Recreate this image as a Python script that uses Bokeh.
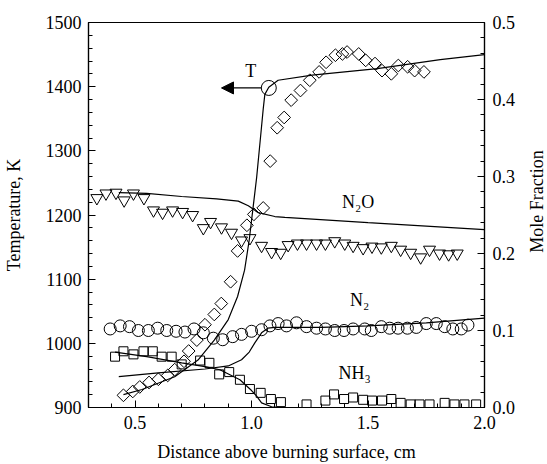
import numpy as np
from bokeh.plotting import figure
from bokeh.layouts import row
from bokeh.models import (Range1d, LinearAxis, SingleIntervalTicker, Label, Arrow,
                          NormalHead, PrintfTickFormatter)
from bokeh.embed import file_html
from bokeh.resources import INLINE

FONT = "Liberation Serif, serif"

# ---- Temperature data (diamonds, left axis, K) ----
temp_x = [0.45, 0.49, 0.52, 0.56, 0.60, 0.64, 0.67, 0.71, 0.73, 0.765, 0.80, 0.84, 0.87, 0.91,
          0.94, 0.98, 1.01, 1.05, 1.08, 1.11, 1.14, 1.17, 1.21, 1.25, 1.29, 1.32, 1.36, 1.39,
          1.41, 1.46, 1.49, 1.53, 1.56, 1.60, 1.63, 1.67, 1.70, 1.74]
temp_y = [919, 925, 932, 939, 944, 950, 959, 972, 988, 1005, 1029, 1045, 1062, 1096,
          1144, 1184, 1201, 1211, 1284, 1336, 1352, 1379, 1394, 1410, 1423, 1438, 1449, 1451,
          1454, 1451, 1441, 1436, 1425, 1420, 1433, 1431, 1425, 1423]

# ---- Temperature model curve ----
tcurve_x = [0.45, 0.53, 0.67, 0.77, 0.84, 0.90, 0.94, 0.97, 0.99, 1.007, 1.022, 1.04, 1.05,
            1.057, 1.074, 1.114, 1.26, 1.54, 1.81, 2.0]
tcurve_y = [920, 928, 948, 974, 1005, 1037, 1073, 1114, 1161, 1213, 1259, 1327, 1365,
            1388, 1399, 1410, 1418, 1428, 1442, 1450]

# ---- N2O data (inverted triangles, mole fraction) ----
n2o_x = [0.336, 0.375, 0.418, 0.453, 0.493, 0.538, 0.579, 0.618, 0.661, 0.704, 0.747, 0.793,
         0.824, 0.871, 0.914, 0.957, 0.993, 1.043, 1.086, 1.125, 1.157, 1.197, 1.236, 1.279,
         1.317, 1.357, 1.40, 1.436, 1.479, 1.517, 1.557, 1.60, 1.64, 1.683, 1.726, 1.764,
         1.807, 1.846, 1.883]
n2o_y = [0.272, 0.278, 0.279, 0.269, 0.278, 0.272, 0.256, 0.253, 0.256, 0.254, 0.250, 0.233,
         0.241, 0.234, 0.227, 0.217, 0.220, 0.210, 0.202, 0.201, 0.211, 0.213, 0.213, 0.213,
         0.213, 0.216, 0.213, 0.210, 0.207, 0.209, 0.208, 0.210, 0.205, 0.201, 0.195, 0.205,
         0.200, 0.199, 0.200]
n2o_curve_x = [0.43, 0.55, 0.70, 0.85, 0.943, 0.986, 1.029, 1.10, 1.143, 1.5, 2.0]
n2o_curve_y = [0.279, 0.278, 0.274, 0.271, 0.268, 0.262, 0.253, 0.248, 0.247, 0.240, 0.231]

# ---- N2 data (circles, mole fraction) ----
n2_x = [0.393, 0.436, 0.476, 0.514, 0.557, 0.597, 0.636, 0.676, 0.714, 0.753, 0.793, 0.836,
        0.876, 0.919, 0.957, 1.0, 1.043, 1.079, 1.114, 1.15, 1.193, 1.236, 1.279, 1.317,
        1.357, 1.397, 1.436, 1.486, 1.514, 1.557, 1.593, 1.629, 1.669, 1.707, 1.75, 1.793,
        1.829, 1.864, 1.90, 1.929]
n2_y = [0.102, 0.106, 0.105, 0.100, 0.100, 0.103, 0.100, 0.099, 0.098, 0.102, 0.097, 0.090,
        0.088, 0.092, 0.095, 0.099, 0.101, 0.106, 0.109, 0.106, 0.110, 0.105, 0.103, 0.102,
        0.100, 0.100, 0.102, 0.102, 0.100, 0.105, 0.103, 0.103, 0.103, 0.104, 0.109, 0.109,
        0.105, 0.102, 0.102, 0.107]
n2_curve_x = [0.43, 0.6, 0.8, 0.9, 0.957, 0.99, 1.014, 1.043, 1.07, 1.1, 1.3, 1.5, 1.75, 2.0]
n2_curve_y = [0.040, 0.045, 0.050, 0.054, 0.062, 0.072, 0.084, 0.097, 0.103, 0.104, 0.104,
              0.106, 0.110, 0.116]

# ---- NH3 data (squares, mole fraction) ----
nh3_x = [0.414, 0.45, 0.493, 0.536, 0.576, 0.614, 0.657, 0.70, 0.779, 0.819, 0.861, 0.904,
         0.95, 0.993, 1.039, 1.083, 1.126, 1.236, 1.317, 1.354, 1.397, 1.436, 1.479, 1.517,
         1.56, 1.60, 1.64, 1.683, 1.721, 1.764, 1.829, 1.871, 1.914, 1.964]
nh3_y = [0.066, 0.073, 0.069, 0.073, 0.073, 0.066, 0.066, 0.056, 0.061, 0.058, 0.043, 0.046,
         0.036, 0.024, 0.019, 0.011, 0.007, 0.004, 0.009, 0.017, 0.011, 0.013, 0.010, 0.009,
         0.009, 0.011, 0.006, 0.004, 0.004, 0.004, 0.006, 0.004, 0.004, 0.004]
nh3_curve_x = [0.414, 0.55, 0.70, 0.80, 0.864, 0.95, 1.0, 1.021, 1.043, 1.086, 1.15, 2.0]
nh3_curve_y = [0.072, 0.066, 0.058, 0.053, 0.049, 0.036, 0.022, 0.015, 0.006, 0.001, 0.0, 0.0]

RIGHT_TITLE = "Mole Fraction"

# ---- main figure ----
p = figure(width=524, height=464, x_range=Range1d(0.3, 2.0), y_range=Range1d(900, 1500),
           output_backend="svg", toolbar_location=None,
           min_border_left=87, min_border_right=40, min_border_top=22, min_border_bottom=56)
p.extra_y_ranges = {"mf": Range1d(0, 0.5)}
p.grid.visible = False
p.outline_line_color = "black"
p.outline_line_width = 1.2
p.background_fill_color = "white"
p.border_fill_color = "white"

def style_axis(ax):
    ax.axis_line_color = "black"
    ax.axis_line_width = 1.2
    ax.major_tick_in = 7
    ax.major_tick_out = 0
    ax.minor_tick_in = 4
    ax.minor_tick_out = 0
    ax.major_tick_line_color = "black"
    ax.minor_tick_line_color = "black"
    ax.major_label_text_font = FONT
    ax.major_label_text_font_size = "18px"
    ax.major_label_text_color = "black"
    ax.axis_label_text_font = FONT
    ax.axis_label_text_font_size = "18px"
    ax.axis_label_text_font_style = "normal"
    ax.axis_label_text_color = "black"

xa = p.xaxis[0]
xa.ticker = SingleIntervalTicker(interval=0.5, num_minor_ticks=5)
xa.formatter = PrintfTickFormatter(format="%.1f")
xa.axis_label = "Distance above burning surface, cm"
style_axis(xa)
xa.major_label_standoff = 8
xa.axis_label_standoff = 10

ya = p.yaxis[0]
ya.ticker = SingleIntervalTicker(interval=100, num_minor_ticks=5)
ya.axis_label = "Temperature, K"
style_axis(ya)
ya.major_label_standoff = 7
ya.axis_label_standoff = 19

ra = LinearAxis(y_range_name="mf", ticker=SingleIntervalTicker(interval=0.1, num_minor_ticks=5),
                formatter=PrintfTickFormatter(format="%.1f"))
style_axis(ra)
ra.major_label_standoff = 8
p.add_layout(ra, "right")

LW = 1.2
# curves
p.line(tcurve_x, tcurve_y, line_color="black", line_width=LW)
p.line(n2o_curve_x, n2o_curve_y, y_range_name="mf", line_color="black", line_width=LW)
p.line(n2_curve_x, n2_curve_y, y_range_name="mf", line_color="black", line_width=LW)
p.line(nh3_curve_x, nh3_curve_y, y_range_name="mf", line_color="black", line_width=LW)

# markers
p.scatter(temp_x, temp_y, marker="square", angle=np.pi / 4, size=9,
          fill_alpha=0, line_color="black", line_width=1)
p.scatter(n2o_x, n2o_y, y_range_name="mf", marker="inverted_triangle", size=12,
          fill_alpha=0, line_color="black", line_width=1)
p.scatter(n2_x, n2_y, y_range_name="mf", marker="circle", size=12,
          fill_alpha=0, line_color="black", line_width=1)
p.scatter(nh3_x, nh3_y, y_range_name="mf", marker="square", size=9,
          fill_alpha=0, line_color="black", line_width=1)

# T marker and arrow
p.scatter([1.074], [1398], marker="circle", size=15, fill_alpha=0, line_color="black", line_width=1)
p.add_layout(Arrow(end=NormalHead(size=12, fill_color="black", line_color="black"),
                   x_start=1.042, y_start=1398, x_end=0.871, y_end=1398,
                   line_color="black", line_width=LW))

def lab(x, y, t, rng="default"):
    p.add_layout(Label(x=x, y=y, text=t, y_range_name=rng, text_align="center",
                       text_baseline="middle", text_font=FONT, text_font_size="18px",
                       text_color="black"))

lab(0.997, 1424, "T")
lab(1.457, 0.267, "N₂O", "mf")
lab(1.464, 0.140, "N₂", "mf")
lab(1.443, 0.045, "NH₃", "mf")

# ---- narrow strip holding the right-axis title (reads bottom to top) ----
p2 = figure(width=23, height=464, x_range=Range1d(0, 1), y_range=Range1d(0, 1),
            output_backend="svg", toolbar_location=None, x_axis_type=None, y_axis_type=None,
            min_border_left=0, min_border_right=0, min_border_top=0, min_border_bottom=0)
p2.outline_line_color = None
p2.grid.visible = False
p2.background_fill_color = "white"
p2.border_fill_color = "white"
p2.add_layout(Label(x=0.55, y=0.535, text=RIGHT_TITLE, angle=np.pi / 2,
                    text_align="center", text_baseline="middle", text_font=FONT,
                    text_font_size="18px", text_color="black"))

layout = row(p, p2, spacing=0)
open("out.html", "w").write(file_html(layout, INLINE))
